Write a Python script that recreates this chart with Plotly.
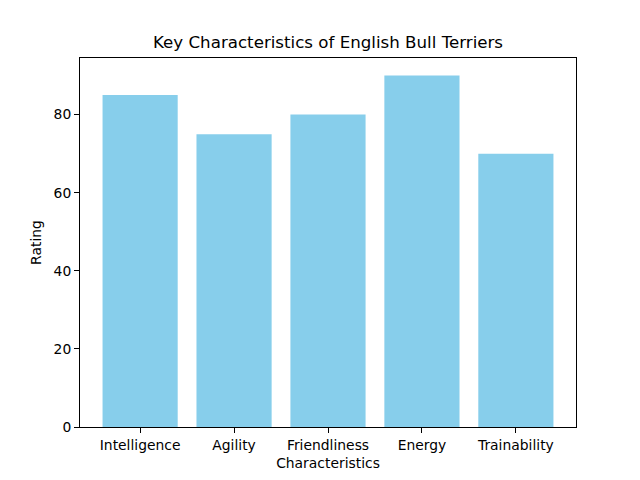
import plotly.graph_objects as go

categories = ["Intelligence", "Agility", "Friendliness", "Energy", "Trainability"]
ratings = [85, 75, 80, 90, 70]
y_ticks = [0, 20, 40, 60, 80]

fig = go.Figure(go.Bar(x=categories, y=ratings, marker_color="#87CEEB",
                       marker_line_width=0, width=0.8))

fig.update_layout(
    width=640, height=480,
    margin=dict(l=80, r=64, t=58, b=53),
    paper_bgcolor="white", plot_bgcolor="white",
    font=dict(family="DejaVu Sans", size=13.89, color="black"),
    showlegend=False,
    xaxis=dict(type="category", range=[-0.64, 4.64], showline=True, linecolor="black",
               linewidth=1, mirror=True, ticks="outside", ticklen=5, tickcolor="black",
               showgrid=False, zeroline=False, tickfont=dict(size=13.89),
               title=dict(text="Characteristics", font=dict(size=13.89), standoff=6)),
    yaxis=dict(range=[0, 94.5], tickvals=y_ticks, showline=True, linecolor="black",
               linewidth=1, mirror=True, ticks="outside", ticklen=5, tickcolor="black",
               showgrid=False, zeroline=False, tickfont=dict(size=13.89),
               title=dict(text="Rating", font=dict(size=13.89), standoff=8)),
    annotations=[dict(text="Key Characteristics of English Bull Terriers", x=0.5, y=1,
                      xref="paper", yref="paper", xanchor="center", yanchor="bottom",
                      yshift=4, showarrow=False, font=dict(size=16.67, family="DejaVu Sans"))],
)

fig.write_html("out.html")
